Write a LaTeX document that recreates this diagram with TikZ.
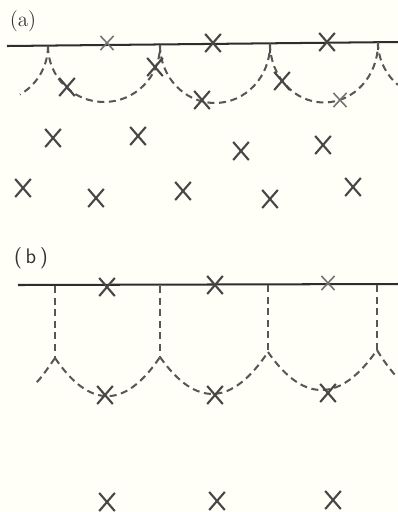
\documentclass[tikz,border=0pt]{standalone}
\usetikzlibrary{shapes.misc}
\begin{document}
\begin{tikzpicture}[x=0.02cm,y=-0.02cm,
  solidline/.style={draw=black!82,line width=1.15pt},
  dashline/.style={draw=black!66,line width=1.15pt,dash pattern=on 4pt off 2.6pt},
  tick/.style={draw=black!75,line width=0.9pt},
  xm/.style={cross out,draw=black!72,line width=1.2pt,inner sep=0pt,minimum width=0.27cm,minimum height=0.32cm},
  xs/.style={cross out,draw=black!55,line width=0.9pt,inner sep=0pt,minimum width=0.23cm,minimum height=0.25cm},
  lab/.style={inner sep=0pt,text=black!80,font=\fontsize{12}{14}\selectfont}]
\fill[white!97!yellow] (0,0) rectangle (398,512);
\useasboundingbox (0,0) rectangle (398,512);

% ---------------- (a) ----------------
\node[lab] (la) at (23,21) {(a)};
\coordinate (aL) at (7,46);
\coordinate (aR) at (398,42);
\draw[solidline] (aL) -- (aR);
% cusps
\coordinate (c1) at (48,46);
\coordinate (c2) at (160,45);
\coordinate (c3) at (270,43.5);
\coordinate (c4) at (378,42);
\coordinate (t2) at (160,53);
\coordinate (t3) at (270,53);
\coordinate (t4) at (378,50);
\draw[tick] (c2) -- (t2);
\draw[tick] (c3) -- (t3);
\draw[tick] (c4) -- (t4);
% dashed arcs
\draw[dashline] (c1) arc[start angle=0,end angle=-60,radius=1.12cm];
\draw[dashline] (c1) arc[start angle=180,end angle=360,x radius=1.12cm,y radius=1.12cm];
\draw[dashline] (c2) arc[start angle=180,end angle=360,x radius=1.10cm,y radius=1.16cm];
\draw[dashline] (c3) arc[start angle=180,end angle=360,x radius=1.08cm,y radius=1.18cm];
\draw[dashline] (c4) arc[start angle=180,end angle=230,radius=1.12cm];
% crosses on line
\node[xs] (a1) at (107,43) {};
\node[xm] (a2) at (213,43) {};
\node[xm] (a3) at (327,42) {};
% crosses on arcs
\node[xm] (a4) at (67,87) {};
\node[xm] (a5) at (155,67) {};
\node[xm] (a6) at (202,100) {};
\node[xm] (a7) at (282,81) {};
\node[xs] (a8) at (340,100) {};
% crosses below
\node[xm] (a9) at (53,138) {};
\node[xm] (a10) at (138,136) {};
\node[xm] (a11) at (241,151) {};
\node[xm] (a12) at (323,145) {};
\node[xm] (a13) at (23,188) {};
\node[xm] (a14) at (96,198) {};
\node[xm] (a15) at (183,191) {};
\node[xm] (a16) at (270,199) {};
\node[xm] (a17) at (353,187) {};

% ---------------- (b) ----------------
\node[lab,font=\sffamily\fontsize{12}{14}\selectfont] (lb) at (31,258) {(\,b\,)};
\coordinate (bL) at (18,285);
\coordinate (bR) at (398,284);
\draw[solidline] (bL) -- (bR);
\coordinate (v1) at (55,286);
\coordinate (v2) at (160,286);
\coordinate (v3) at (268,285);
\coordinate (v4) at (377,285);
\coordinate (d1) at (55,358);
\coordinate (d2) at (160,357);
\coordinate (d3) at (268,352);
\coordinate (d4) at (377,350);
\draw[dashline] (v1) -- (d1);
\draw[dashline] (v2) -- (d2);
\draw[dashline] (v3) -- (d3);
\draw[dashline] (v4) -- (d4);
\coordinate (e1) at (36,383);
\coordinate (e2) at (395,375);
\draw[dashline] (d1) .. controls (48,368) and (42,377) .. (e1);
\draw[dashline] (d1) .. controls (90,409) and (125,409) .. (d2);
\draw[dashline] (d2) .. controls (196,408) and (232,406) .. (d3);
\draw[dashline] (d3) .. controls (304,404) and (341,402) .. (d4);
\draw[dashline] (d4) .. controls (383,360) and (389,368) .. (e2);
% crosses on line
\node[xm] (b1) at (107,287) {};
\node[xm] (b2) at (215,285) {};
\node[xs] (b3) at (328,283) {};
% crosses on arcs
\node[xm] (b4) at (105,395) {};
\node[xm] (b5) at (215,395) {};
\node[xm] (b6) at (328,393) {};
% bottom crosses
\node[xm] (b7) at (107,502) {};
\node[xm] (b8) at (217,501) {};
\node[xm] (b9) at (333,500) {};
\end{tikzpicture}
\end{document}
